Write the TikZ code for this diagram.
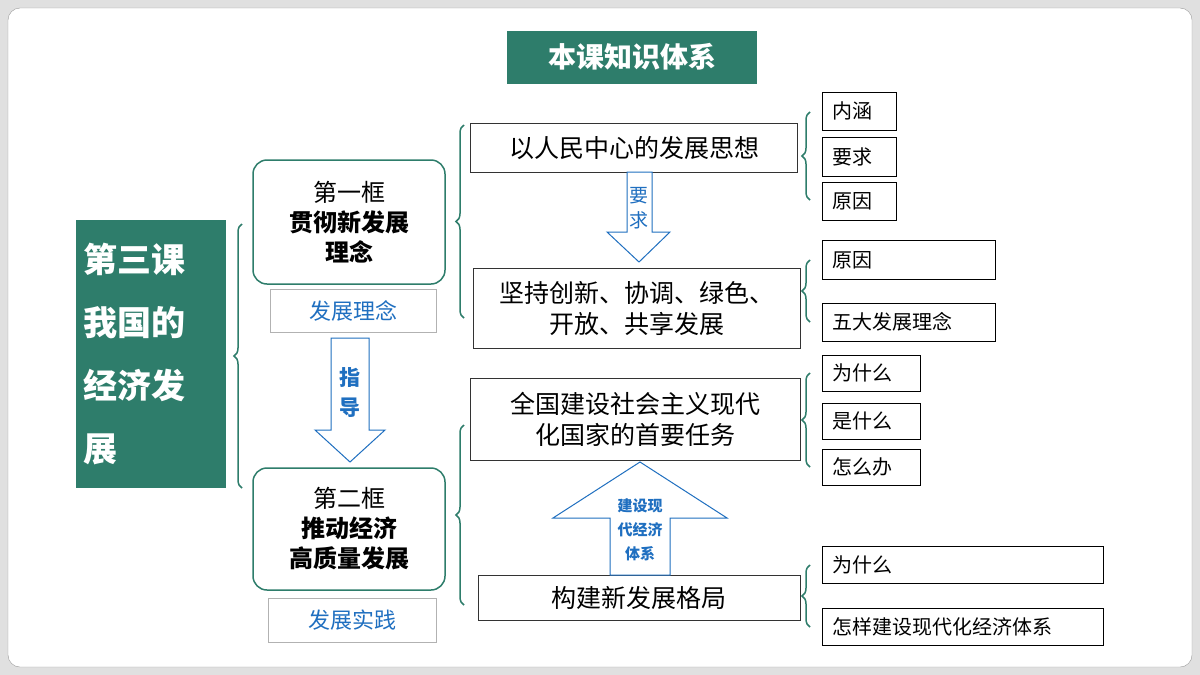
\documentclass[tikz,border=0pt]{standalone}
\usepackage{fontspec}
\setmainfont{Noto Sans CJK SC}
\usetikzlibrary{positioning,decorations.pathreplacing}
\definecolor{teal1}{HTML}{2E7D6B}
\definecolor{blue1}{HTML}{1F6FC0}
\begin{document}
\begin{tikzpicture}[x=1pt,y=-1pt,
  box/.style={draw=black!80, line width=1pt, align=center, inner sep=2pt, font=\fontsize{25}{31}\selectfont},
  small/.style={draw=black, line width=1pt, anchor=west, inner xsep=10pt, inner ysep=0pt, align=left, font=\fontsize{20}{22}\selectfont},
  frame/.style={draw=teal1, line width=1.5pt, rounded corners=14pt, align=center, font=\fontsize{24}{30}\selectfont},
  tag/.style={draw=black!30, line width=1pt, text=blue1, font=\fontsize{22}{26}\selectfont},
  brc/.style={draw=teal1, line width=1.5pt, decorate, decoration={brace, amplitude=8pt}},
  hollow/.style={draw=blue1, line width=1pt, fill=white}]
% background
\fill[black!12] (0,0) rectangle (1200,675);
\draw[black!40, fill=white, rounded corners=12pt] (8,8) rectangle (1192,667);
\node[fill=teal1, text=white, minimum width=250pt, minimum height=53pt, font=\fontsize{28}{30}\selectfont\bfseries] (title) at (632,57) {本课知识体系};
% lesson
\node[fill=teal1, text=white, text width=136pt, inner xsep=7pt, minimum height=268pt, align=left, font=\fontsize{34}{63}\selectfont\bfseries] (lesson) at (151,354) {第三课\\我国的\\经济发\\展};
\node[frame, minimum width=192pt, minimum height=124pt] (k1) at (349,222) {第一框\\\textbf{贯彻新发展}\\\textbf{理念}};
\node[frame, minimum width=192pt, minimum height=122pt] (k2) at (349,529) {第二框\\\textbf{推动经济}\\\textbf{高质量发展}};
\node[tag, minimum width=166pt, minimum height=43pt] (t1) at (353,311) {发展理念};
\node[tag, minimum width=168pt, minimum height=44pt] (t2) at (352,620) {发展实践};
\draw[brc] (242,488) -- (242,224);
% guiding arrow
\draw[hollow] (331,338) -- (369,338) -- (369,430) -- (385,430) -- (350,462) -- (315,430) -- (331,430) -- cycle;
\node[text=blue1, align=center, font=\fontsize{21}{30}\selectfont\bfseries] (g) at (350,393) {指\\导};
% right of k1
\node[box, minimum width=327pt, minimum height=49pt] (a) at (634,148) {以人民中心的发展思想};
\node[box, minimum width=327pt, minimum height=80pt] (b) at (637,308) {坚持创新、协调、绿色、\\开放、共享发展};
\draw[brc] (464,318) -- (464,125);
\draw[hollow] (627,172) -- (652,172) -- (652,232) -- (670,232) -- (639,262) -- (607,232) -- (627,232) -- cycle;
\node[text=blue1, align=center, font=\fontsize{19}{25}\selectfont] (y) at (639,208) {要\\求};
% right of k2
\node[box, minimum width=330pt, minimum height=82pt] (c) at (635,419) {全国建设社会主义现代\\化国家的首要任务};
\node[box, minimum width=322pt, minimum height=45pt] (d) at (639,598) {构建新发展格局};
\draw[brc] (464,605) -- (464,425);
\draw[hollow] (610,575) -- (670,575) -- (670,518) -- (727,518) -- (640,462) -- (553,518) -- (610,518) -- cycle;
\node[text=blue1, align=center, font=\fontsize{15}{24}\selectfont\bfseries] (j) at (640,530) {建设现\\代经济\\体系};
% leaf boxes
\node[small, text width=54pt, minimum height=38pt] (a1) at (822,111) {内涵};
\node[small, text width=54pt, minimum height=39pt] (a2) at (822,157) {要求};
\node[small, text width=54pt, minimum height=38pt] (a3) at (822,201) {原因};
\draw[brc] (810,200) -- (810,112);
\node[small, text width=153pt, minimum height=39pt] (b1) at (822,260) {原因};
\node[small, text width=153pt, minimum height=38pt] (b2) at (822,322) {五大发展理念};
\draw[brc] (810,322) -- (810,260);
\node[small, text width=78pt, minimum height=36pt] (c1) at (822,373) {为什么};
\node[small, text width=78pt, minimum height=36pt] (c2) at (822,421) {是什么};
\node[small, text width=78pt, minimum height=36pt] (c3) at (822,467) {怎么办};
\draw[brc] (810,467) -- (810,373);
\node[small, text width=261pt, minimum height=37pt] (d1) at (822,565) {为什么};
\node[small, text width=261pt, minimum height=37pt] (d2) at (822,627) {怎样建设现代化经济体系};
\draw[brc] (810,627) -- (810,565);
\end{tikzpicture}
\end{document}
